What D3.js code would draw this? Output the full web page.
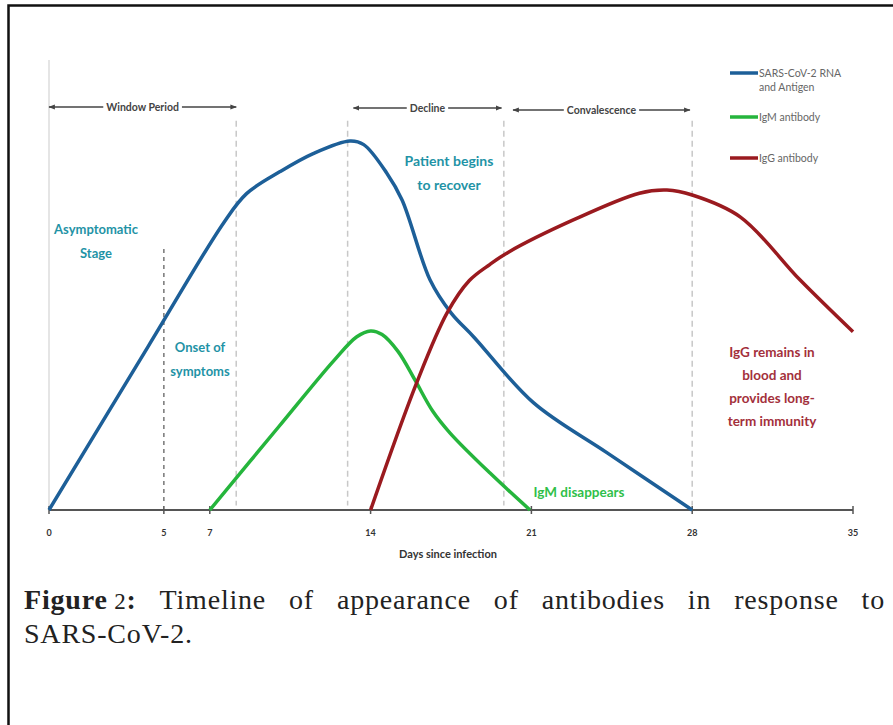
<!DOCTYPE html>
<html>
<head>
<meta charset="utf-8">
<title>Timeline of antibodies in response to SARS-CoV-2</title>
<script src="https://cdnjs.cloudflare.com/ajax/libs/d3/7.8.5/d3.min.js"></script>
<style>
  body { margin: 0; background: #fff; }
  svg { display: block; }
  .anno { font-family: Lato, "Open Sans", sans-serif; font-weight: bold; }
</style>
</head>
<body>
<div id="chart"></div>
<script>
// days since infection on x, relative level (0-100) on y
var ticks = [0, 5, 7, 14, 21, 28, 35];

var rnaDays   = [0, 4.3, 7.6, 8.6, 10.06, 11.5, 13.1, 13.7, 14.7, 15.37, 16.59, 17.5, 18.5, 21.1, 24.3, 28];
var rnaLevel  = [0, 36.2, 63.8, 70.3, 75.2, 79.2, 82, 81.2, 74.9, 68.9, 51.1, 43.8, 38.4, 23.8, 12.7, 0];

var igmDays   = [7, 10, 12.4, 13.4, 14, 14.5, 15.2, 15.93, 16.7, 17.46, 19.2, 20.94];
var igmLevel  = [0, 18.5, 33.2, 38.5, 39.8, 39, 35.2, 28.9, 22, 17.1, 8.2, 0];

var iggDays   = [14, 16, 17.33, 18.3, 19.2, 20, 22.8, 25.7, 26.9, 28, 30.1, 32.7, 35];
var iggLevel  = [0, 28.2, 43.8, 51, 54.6, 57.3, 64.4, 70.4, 71.1, 70, 65.1, 51.1, 39.6];

var seriesNames = ["SARS-CoV-2 RNA|and Antigen", "IgM antibody", "IgG antibody"];
var seriesColors = ["#1d5f98", "#25b53c", "#9a1a1f"];

var phaseNames = ["Window Period", "Decline", "Convalescence"];
var phaseFrom = [0, 13.25, 20.2];
var phaseTo = [8.15, 19.7, 27.9];

var dashedDays = [8.15, 13, 19.8, 28];
var onsetDay = 5;

var caption1 = ["Timeline", "of", "appearance", "of", "antibodies", "in", "response", "to"];
var caption2 = "SARS-CoV-2.";

var W = 893, H = 725;
var svg = d3.select("#chart").append("svg").attr("width", W).attr("height", H);

// frame (cropped on the right and bottom)
svg.append("rect").attr("x", 8.5).attr("y", 5.5).attr("width", 1000).attr("height", 1000)
  .attr("fill", "none").attr("stroke", "#111").attr("stroke-width", 2.5);

var x = d3.scaleLinear().domain([0, 35]).range([49, 853]);
var y = d3.scaleLinear().domain([0, 100]).range([510, 60]);

// left light guide line
svg.append("line").attr("x1", x(0)).attr("x2", x(0)).attr("y1", y(100)).attr("y2", y(0))
  .attr("stroke", "#dcdcdc").attr("stroke-width", 1.5);

// dashed phase lines
svg.selectAll(".vdash").data(dashedDays).enter().append("line")
  .attr("x1", function (d) { return x(d); }).attr("x2", function (d) { return x(d); })
  .attr("y1", y(86.5)).attr("y2", y(1))
  .attr("stroke", "#c8c8c8").attr("stroke-width", 1.5).attr("stroke-dasharray", "6,4");

svg.append("line").attr("x1", x(onsetDay)).attr("x2", x(onsetDay))
  .attr("y1", y(58)).attr("y2", y(2))
  .attr("stroke", "#777").attr("stroke-width", 1.5).attr("stroke-dasharray", "4,4");

// phase arrows
var defs = svg.append("defs");
defs.append("marker").attr("id", "ah").attr("viewBox", "0 0 10 10").attr("refX", 9).attr("refY", 5)
  .attr("markerWidth", 5).attr("markerHeight", 5).attr("orient", "auto-start-reverse")
  .append("path").attr("d", "M0,1 L10,5 L0,9 Z").attr("fill", "#444");

var arrowY = [107, 108, 110];
phaseNames.forEach(function (name, i) {
  var g = svg.append("g");
  var cx = (x(phaseFrom[i]) + x(phaseTo[i])) / 2;
  var t = g.append("text").attr("class", "anno").attr("x", cx).attr("y", arrowY[i] + 3.5)
    .attr("text-anchor", "middle").attr("font-size", 10.5).attr("fill", "#444").text(name);
  var half = t.node().getComputedTextLength() / 2 + 3;
  g.append("line").attr("x1", cx - half).attr("x2", x(phaseFrom[i]))
    .attr("y1", arrowY[i]).attr("y2", arrowY[i]).attr("stroke", "#444").attr("stroke-width", 1.3)
    .attr("marker-end", "url(#ah)");
  g.append("line").attr("x1", cx + half).attr("x2", x(phaseTo[i]))
    .attr("y1", arrowY[i]).attr("y2", arrowY[i]).attr("stroke", "#444").attr("stroke-width", 1.3)
    .attr("marker-end", "url(#ah)");
});

// x axis
svg.append("line").attr("x1", x(0)).attr("x2", x(35)).attr("y1", y(0)).attr("y2", y(0))
  .attr("stroke", "#555").attr("stroke-width", 2);
svg.selectAll(".tk").data(ticks).enter().append("line")
  .attr("x1", function (d) { return x(d); }).attr("x2", function (d) { return x(d); })
  .attr("y1", y(0) - 4).attr("y2", y(0) + 4).attr("stroke", "#555").attr("stroke-width", 1.5);
svg.selectAll(".tl").data(ticks).enter().append("text")
  .attr("class", "anno").attr("x", function (d) { return x(d); }).attr("y", 536)
  .attr("text-anchor", "middle").attr("font-size", 9).attr("fill", "#333")
  .text(function (d) { return d; });
svg.append("text").attr("class", "anno").attr("x", 448).attr("y", 558)
  .attr("text-anchor", "middle").attr("font-size", 11).attr("fill", "#333")
  .text("Days since infection");

// curves
var line = d3.line()
  .x(function (d) { return x(d[0]); })
  .y(function (d) { return y(d[1]); })
  .curve(d3.curveCatmullRom.alpha(0.5));

var series = [
  d3.zip(rnaDays, rnaLevel),
  d3.zip(igmDays, igmLevel),
  d3.zip(iggDays, iggLevel)
];
series.forEach(function (s, i) {
  svg.append("path").datum(s).attr("d", line)
    .attr("fill", "none").attr("stroke", seriesColors[i]).attr("stroke-width", 3.5)
    .attr("stroke-linejoin", "round");
});

// legend
var legY = [73, 117, 158];
seriesNames.forEach(function (name, i) {
  svg.append("line").attr("x1", 730).attr("x2", 758).attr("y1", legY[i]).attr("y2", legY[i])
    .attr("stroke", seriesColors[i]).attr("stroke-width", 3.5);
  var t = svg.append("text").attr("x", 759).attr("y", legY[i] + 3.5)
    .attr("font-family", "Lato, sans-serif").attr("font-size", 10.5).attr("fill", "#666");
  name.split("|").forEach(function (part, j) {
    t.append("tspan").attr("x", 759).attr("dy", j === 0 ? 0 : 14).text(part);
  });
});

// annotations
function anno(lines, cx, y0, color, size, step) {
  var t = svg.append("text").attr("class", "anno").attr("text-anchor", "middle")
    .attr("font-size", size).attr("fill", color).attr("y", y0);
  lines.forEach(function (l, j) {
    t.append("tspan").attr("x", cx).attr("dy", j === 0 ? 0 : step).text(l);
  });
}
var teal = "#1f93a6";
anno(["Asymptomatic", "Stage"], 96, 234, teal, 13, 24);
anno(["Onset of", "symptoms"], 200, 352, teal, 13, 24);
anno(["Patient begins", "to recover"], 449, 166, teal, 14, 24);
anno(["IgG remains in", "blood and", "provides long-", "term immunity"], 772, 357, "#a3303b", 13.5, 23);
anno(["IgM disappears"], 579, 497, "#2fbf4a", 13.5, 0);

// caption, justified first line
var capY1 = 609, capY2 = 643, capL = 24, capR = 885;
var capFont = "'Liberation Serif', 'DejaVu Serif', serif";
var capSize = 28;
function capText(yy) {
  return svg.append("text").attr("y", yy).attr("font-family", capFont)
    .attr("font-size", capSize).attr("letter-spacing", 0.8).attr("fill", "#222");
}
var words = [];
var w0 = capText(capY1);
w0.append("tspan").attr("font-weight", "bold").text("Figure");
w0.append("tspan").attr("font-size", 23).text(" 2");
w0.append("tspan").attr("font-weight", "bold").text(":");
words.push(w0);
caption1.forEach(function (wd) { words.push(capText(capY1).text(wd)); });
var widths = words.map(function (w) { return w.node().getComputedTextLength(); });
var gap = (capR - capL - d3.sum(widths)) / (words.length - 1);
var cx0 = capL;
words.forEach(function (w, i) { w.attr("x", cx0); cx0 += widths[i] + gap; });
capText(capY2).attr("x", capL).text(caption2);
</script>
</body>
</html>
